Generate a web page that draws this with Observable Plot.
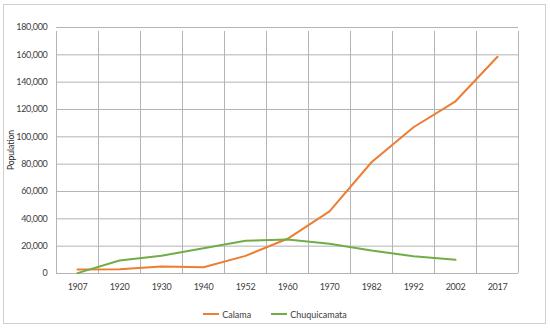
<!DOCTYPE html>
<html>
<head>
<meta charset="utf-8">
<script src="https://cdn.jsdelivr.net/npm/d3@7"></script>
<script src="https://cdn.jsdelivr.net/npm/@observablehq/plot@0.6"></script>
<style>
  body { margin: 0; background: #fff; font-family: Lato, "Open Sans", sans-serif; }
  #wrap { position: relative; width: 550px; height: 330px; }
  #frame { position: absolute; left: 3px; top: 4px; width: 541px; height: 318px; border: 1px solid #d0d0d0; pointer-events: none; }
  #chart { position: absolute; left: 0; top: 0; }
  #chart svg text { letter-spacing: -0.3px; }
  #ylabel { position: absolute; left: 11px; top: 150px; transform: translate(-50%, -50%) rotate(-90deg); font-size: 8.5px; color: #262626; white-space: nowrap; }
  #legend { position: absolute; left: 0; width: 550px; top: 306px; text-align: center; font-size: 9px; color: #404040; }
  .item { display: inline-flex; align-items: center; margin: 0 10px; }
  .sw { display: inline-block; width: 16px; height: 2px; margin-right: 3px; }
</style>
</head>
<body>
<div id="wrap">
  <div id="chart"></div>
  <div id="ylabel">Population</div>
  <div id="legend"></div>
  <div id="frame"></div>
</div>
<script>
const years = ["1907","1920","1930","1940","1952","1960","1970","1982","1992","2002","2017"];
const calama = [2900, 3100, 5100, 4600, 12900, 25400, 45400, 81400, 107000, 126000, 158600];
const chuquicamata = [300, 9500, 13000, 18500, 23900, 24900, 21700, 16800, 12600, 10000];
const seriesNames = ["Calama", "Chuquicamata"];
const seriesColors = ["#ED7D31", "#70AD47"];
const yTicks = [0, 20000, 40000, 60000, 80000, 100000, 120000, 140000, 160000, 180000];

const rows = [
  ...calama.map((v, i) => ({i, year: years[i], value: v, series: "Calama"})),
  ...chuquicamata.map((v, i) => ({i, year: years[i], value: v, series: "Chuquicamata"}))
];
const idx = years.map((_, i) => i);
const bounds = years.map((_, i) => i - 0.5).concat([years.length - 0.5]);

const grid = "#b4b4b4";
const chart = Plot.plot({
  width: 550,
  height: 300,
  marginLeft: 56,
  marginRight: 32,
  marginTop: 27,
  marginBottom: 27,
  style: {fontFamily: "Lato, 'Open Sans', sans-serif", fontSize: "9px", color: "#404040", background: "transparent"},
  x: {type: "linear", domain: [-0.5, years.length - 0.5], axis: null},
  y: {domain: [0, 180000], axis: null},
  color: {domain: seriesNames, range: seriesColors},
  marks: [
    Plot.gridY(yTicks, {stroke: grid, strokeOpacity: 1}),
    Plot.ruleX(bounds, {y1: 0, y2: 180000, insetBottom: -4, stroke: grid, strokeOpacity: 1}),
    Plot.axisY(yTicks, {tickFormat: d3.format(","), tickSize: 0, tickPadding: 9, label: null}),
    Plot.axisX(idx, {tickFormat: i => years[i], tickSize: 0, tickPadding: 10, label: null}),
    Plot.line(rows, {x: "i", y: "value", z: "series", stroke: "series", strokeWidth: 2})
  ]
});
document.getElementById("chart").appendChild(chart);

const legend = document.getElementById("legend");
seriesNames.forEach((name, k) => {
  const it = document.createElement("span");
  it.className = "item";
  const sw = document.createElement("span");
  sw.className = "sw";
  sw.style.background = seriesColors[k];
  it.appendChild(sw);
  it.appendChild(document.createTextNode(name));
  legend.appendChild(it);
});
</script>
</body>
</html>
